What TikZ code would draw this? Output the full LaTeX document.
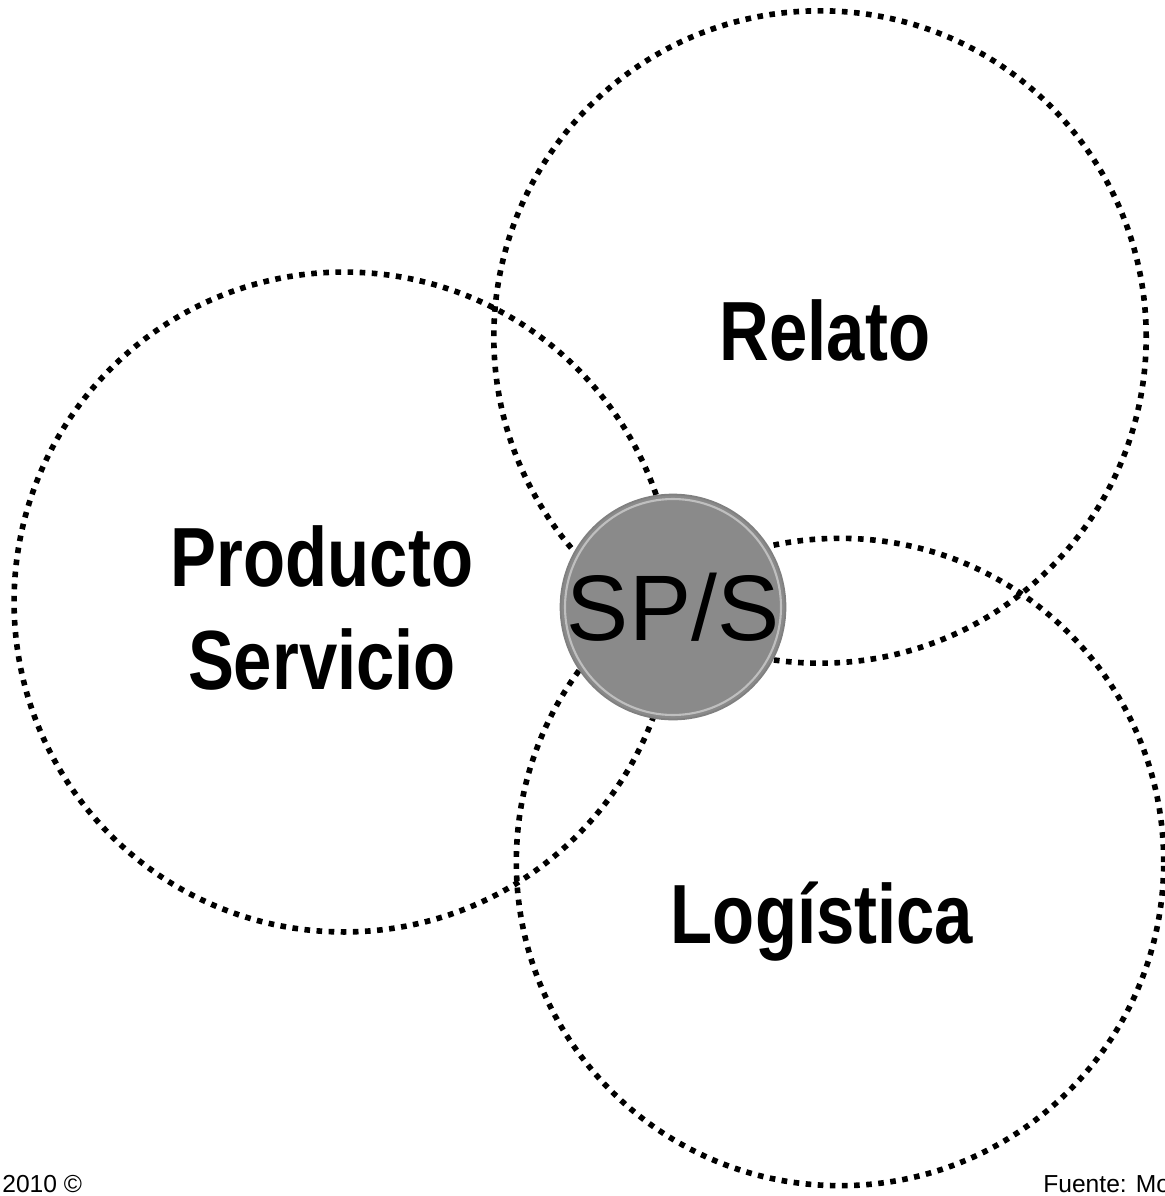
\documentclass[tikz,border=0pt]{standalone}
\usepackage{fontspec}
\setmainfont{Liberation Sans}
\newfontfamily\narrowfont[FakeStretch=0.82]{Liberation Sans}
\usetikzlibrary{positioning}
\definecolor{spsgray}{RGB}{138,138,138}
\tikzset{%
	dotring/.style = {draw, circle, line width=3.2pt, dash pattern=on 3.2pt off 3.7pt, inner sep=0pt},
	hub/.style     = {circle, inner sep=0pt, fill=spsgray, draw=black!50, line width=1pt},
	area/.style    = {font=\narrowfont\bfseries\fontsize{47.8}{58.6}\selectfont, align=center, inner sep=0pt},
	note/.style    = {font=\fontsize{14}{16}\selectfont, inner sep=0pt},
}
\begin{document}
\begin{tikzpicture}[x=0.02cm, y=-0.02cm]
		\useasboundingbox (0,0) rectangle (1164,1196);
		% the three fields
		\node[dotring, minimum size=13.2cm] (prod) at (344,602) {};
		\node[dotring, minimum size=13.05cm] (rel) at (820,337) {};
		\node[dotring, minimum size=12.95cm] (log) at (840,862) {};
		\node[area] (prodlbl) at (322,608) {Producto\\Servicio};
		\node[area] (rellbl) at (825,330) {Relato};
		\node[area] (loglbl) at (822,922) {Logística};
		% centre
		\node[hub, minimum size=4.5cm] (sps) at (673,607) {};
		\draw[white!45!spsgray, line width=1.2pt] (sps.center) circle[radius=108];
		\node[font=\fontsize{53}{60}\selectfont, inner sep=0pt] (spslbl) at (sps) {SP/S};
		% footer
		\node[note, anchor=base west] (year) at (2,1192) {2010 ©};
		\node[note, anchor=base west] (src) at (1043,1192) {Fuente: Mo};
\end{tikzpicture}
\end{document}
